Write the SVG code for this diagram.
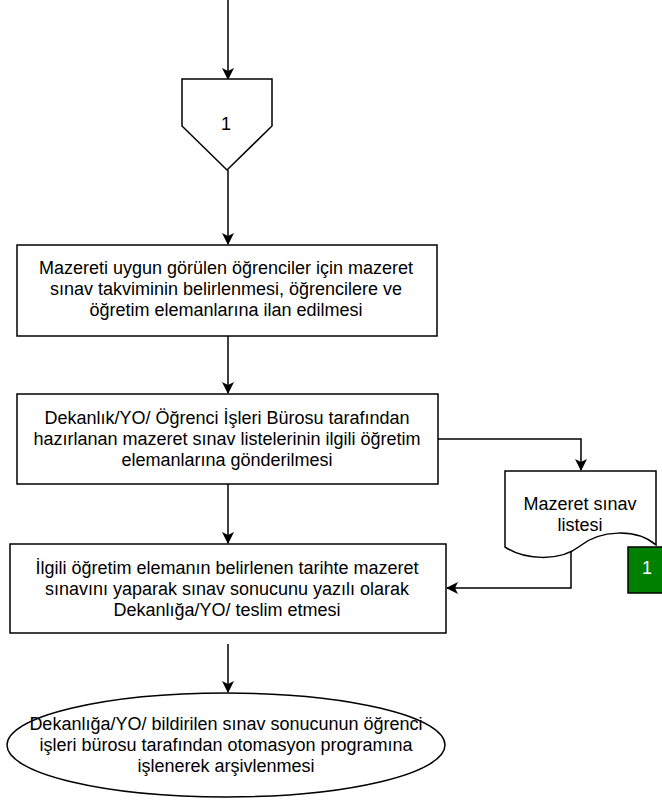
<svg xmlns="http://www.w3.org/2000/svg" width="662" height="805" viewBox="0 0 662 805">
<style>
.s{fill:#fff;stroke:#000;stroke-width:1.5}
.t{font-family:"Liberation Sans",Arial,sans-serif;font-size:18px;fill:#000;text-anchor:middle}
.c{fill:none;stroke:#000;stroke-width:1.5}
</style>
<defs>
<marker id="a" viewBox="0 0 12 12" refX="11" refY="6" markerWidth="12" markerHeight="12" markerUnits="userSpaceOnUse" orient="auto">
<path d="M0,0 L12,6 L0,12 L3,6 Z" fill="#000"/>
</marker>
</defs>
<rect width="662" height="805" fill="#fff"/>
<g id="connectors">
<path class="c" d="M228,0 V79" marker-end="url(#a)"/>
<path class="c" d="M228,170 V244" marker-end="url(#a)"/>
<path class="c" d="M228,336 V393" marker-end="url(#a)"/>
<path class="c" d="M438,439 H581 V470" marker-end="url(#a)"/>
<path class="c" d="M228,484 V543" marker-end="url(#a)"/>
<path class="c" d="M571,552 V588 H447" marker-end="url(#a)"/>
<path class="c" d="M228,644 V692" marker-end="url(#a)"/>
</g>
<g id="offpage1">
<path class="s" d="M182,79 H272 V126 L227,170 L182,126 Z"/>
<text class="t" x="226" y="130">1</text>
</g>
<g id="step1">
<rect class="s" x="17" y="245" width="420" height="91"/>
<text class="t" x="226" y="274">Mazereti uygun görülen öğrenciler için mazeret</text>
<text class="t" x="226" y="295">sınav takviminin belirlenmesi, öğrencilere ve</text>
<text class="t" x="226" y="316">öğretim elemanlarına ilan edilmesi</text>
</g>
<g id="step2">
<rect class="s" x="17" y="394" width="421" height="90"/>
<text class="t" x="227" y="424">Dekanlık/YO/ Öğrenci İşleri Bürosu tarafından</text>
<text class="t" x="227" y="445">hazırlanan mazeret sınav listelerinin ilgili öğretim</text>
<text class="t" x="227" y="466">elemanlarına gönderilmesi</text>
</g>
<g id="doc">
<path class="s" d="M505,471 H656 V545 C636,528 600,530 580,546 C560,562 525,560 505,547 Z"/>
<text class="t" x="580" y="510">Mazeret sınav</text>
<text class="t" x="580" y="531">listesi</text>
</g>
<g id="pageref">
<rect x="628" y="547" width="40" height="46" fill="#008000" stroke="#000" stroke-width="1.5"/>
<text class="t" x="647" y="574" style="fill:#fff">1</text>
</g>
<g id="step3">
<rect class="s" x="10" y="544" width="436" height="89"/>
<text class="t" x="227" y="574">İlgili öğretim elemanın belirlenen tarihte mazeret</text>
<text class="t" x="227" y="595">sınavını yaparak sınav sonucunu yazılı olarak</text>
<text class="t" x="227" y="616">Dekanlığa/YO/ teslim etmesi</text>
</g>
<g id="end">
<ellipse class="s" cx="226" cy="745" rx="219" ry="52"/>
<text class="t" x="226" y="730">Dekanlığa/YO/ bildirilen sınav sonucunun öğrenci</text>
<text class="t" x="226" y="751">işleri bürosu tarafından otomasyon programına</text>
<text class="t" x="226" y="772">işlenerek arşivlenmesi</text>
</g>
</svg>
